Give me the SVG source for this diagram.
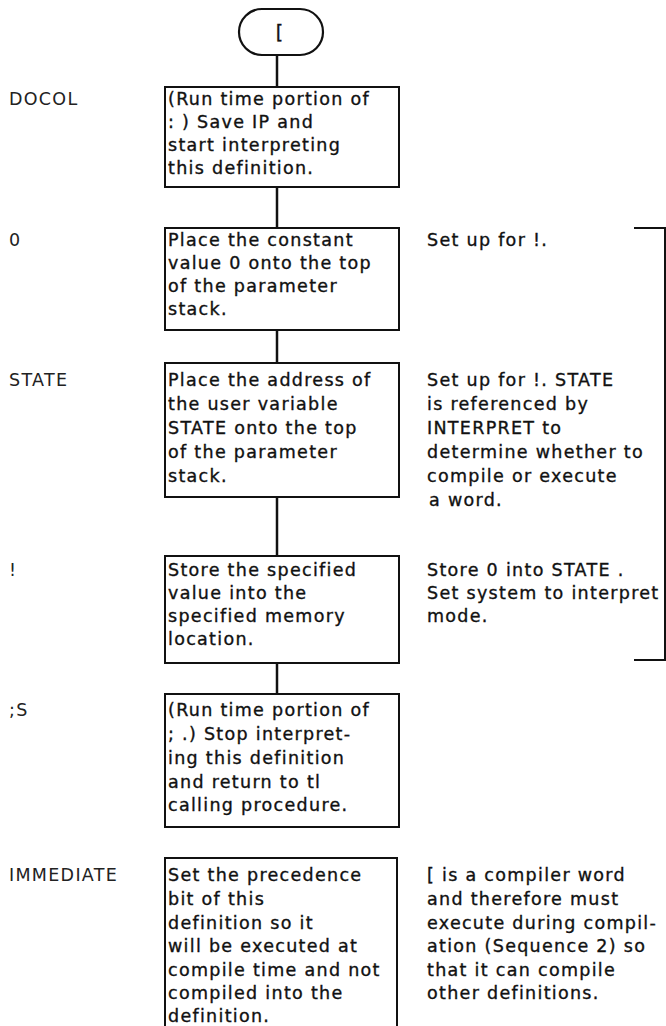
<svg xmlns="http://www.w3.org/2000/svg" width="666" height="1026" viewBox="0 0 666 1026">
<style>
  text { font-family: "DejaVu Sans", "Liberation Sans", sans-serif; font-size: 17.5px; letter-spacing: 1.3px; fill: #111; stroke: #111; stroke-width: 0.35; }
  .lbl { fill: #222; stroke: none; }
  .box { fill: #fff; stroke: #111; stroke-width: 2; }
  .term { fill: #fff; stroke: #111; stroke-width: 2.2; }
  .conn { stroke: #111; stroke-width: 2.5; fill: none; }
  .brk { stroke: #111; stroke-width: 2; fill: none; }
</style>
<rect width="666" height="1026" fill="#fff"/>

<g id="connectors">
  <line class="conn" x1="277" y1="55" x2="277" y2="87"/>
  <line class="conn" x1="277" y1="187" x2="277" y2="228"/>
  <line class="conn" x1="277" y1="330" x2="277" y2="363"/>
  <line class="conn" x1="277" y1="497" x2="277" y2="556"/>
  <line class="conn" x1="277" y1="663" x2="277" y2="694"/>
</g>

<g id="start">
  <rect class="term" x="239" y="9" width="84" height="46" rx="23"/>
  <text x="280" y="39" text-anchor="middle" style="font-size:19px">[</text>
</g>

<g id="docol">
  <text class="lbl" x="9" y="105">DOCOL</text>
  <rect class="box" x="165" y="87" width="234" height="100"/>
  <text x="168" y="105">(Run time portion of</text>
  <text x="168" y="128">: ) Save IP and</text>
  <text x="168" y="151">start interpreting</text>
  <text x="168" y="174">this definition.</text>
</g>

<g id="zero">
  <text class="lbl" x="9" y="246">0</text>
  <rect class="box" x="165" y="228" width="234" height="102"/>
  <text x="168" y="246">Place the constant</text>
  <text x="168" y="269">value 0 onto the top</text>
  <text x="168" y="292">of the parameter</text>
  <text x="168" y="315">stack.</text>
  <text x="427" y="246">Set up for !.</text>
</g>

<g id="state">
  <text class="lbl" x="9" y="386">STATE</text>
  <rect class="box" x="165" y="363" width="234" height="134"/>
  <text x="168" y="386">Place the address of</text>
  <text x="168" y="410">the user variable</text>
  <text x="168" y="434">STATE onto the top</text>
  <text x="168" y="458">of the parameter</text>
  <text x="168" y="482">stack.</text>
  <text x="427" y="386">Set up for !. STATE</text>
  <text x="427" y="410">is referenced by</text>
  <text x="427" y="434">INTERPRET to</text>
  <text x="427" y="458">determine whether to</text>
  <text x="427" y="482">compile or execute</text>
  <text x="429" y="506">a word.</text>
</g>

<g id="store">
  <text class="lbl" x="9" y="576">!</text>
  <rect class="box" x="165" y="556" width="234" height="107"/>
  <text x="168" y="576">Store the specified</text>
  <text x="168" y="599">value into the</text>
  <text x="168" y="622">specified memory</text>
  <text x="168" y="645">location.</text>
  <text x="427" y="576">Store 0 into STATE .</text>
  <text x="427" y="599">Set system to interpret</text>
  <text x="427" y="622">mode.</text>
</g>

<g id="semis">
  <text class="lbl" x="9" y="716">;S</text>
  <rect class="box" x="165" y="694" width="234" height="133"/>
  <text x="168" y="716">(Run time portion of</text>
  <text x="168" y="740">; .) Stop interpret-</text>
  <text x="168" y="764">ing this definition</text>
  <text x="168" y="788">and return to tl</text>
  <text x="168" y="811">calling procedure.</text>
</g>

<g id="immediate">
  <text class="lbl" x="9" y="881">IMMEDIATE</text>
  <rect class="box" x="165" y="858" width="232" height="185"/>
  <text x="168" y="881">Set the precedence</text>
  <text x="168" y="905">bit of this</text>
  <text x="168" y="929">definition so it</text>
  <text x="168" y="952">will be executed at</text>
  <text x="168" y="976">compile time and not</text>
  <text x="168" y="999">compiled into the</text>
  <text x="168" y="1022">definition.</text>
  <text x="427" y="881">[ is a compiler word</text>
  <text x="427" y="905">and therefore must</text>
  <text x="427" y="929">execute during compil-</text>
  <text x="427" y="952">ation (Sequence 2) so</text>
  <text x="427" y="976">that it can compile</text>
  <text x="427" y="999">other definitions.</text>
</g>

<g id="bracket">
  <path class="brk" d="M634,228 H665 V660 H634"/>
</g>
</svg>
